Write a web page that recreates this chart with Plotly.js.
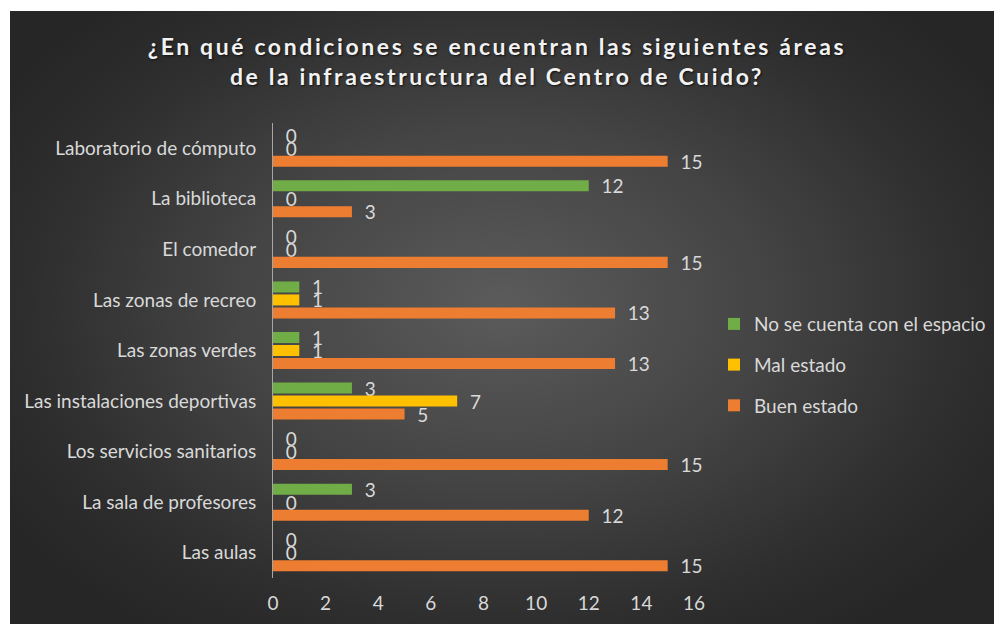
<!DOCTYPE html>
<html>
<head>
<meta charset="utf-8">
<script src="https://cdn.plot.ly/plotly-3.0.1.min.js"></script>
<style>
  html, body { margin:0; padding:0; background:#ffffff; }
  #bg { position:absolute; left:10px; top:11px; width:984px; height:613px;
        background: radial-gradient(ellipse 60% 65% at 50% 48%, #5b5b5b 0%, #444444 45%, #2e2e2e 80%, #262626 100%); }
  #chart { position:absolute; left:0; top:0; width:994px; height:624px; }
  .gtitle { letter-spacing: 2.6px; }
</style>
</head>
<body>
<div id="bg"></div>
<div id="chart"></div>
<script>
const categories = [
  "Laboratorio de cómputo",
  "La biblioteca",
  "El comedor",
  "Las zonas de recreo",
  "Las zonas verdes",
  "Las instalaciones deportivas",
  "Los servicios sanitarios",
  "La sala de profesores",
  "Las aulas"
];
const noEspacio  = [0, 12, 0, 1, 1, 3, 0, 3, 0];
const malEstado  = [0, 0, 0, 1, 1, 7, 0, 0, 0];
const buenEstado = [15, 3, 15, 13, 13, 5, 15, 12, 15];
const seriesNames = ["No se cuenta con el espacio", "Mal estado", "Buen estado"];
const seriesColors = ["#70ad47", "#ffc000", "#ed7d31"];
const xTicks = [0, 2, 4, 6, 8, 10, 12, 14, 16];

const FONT = "Lato, 'Open Sans', sans-serif";
const LABEL_PAD = "\u00a0\u00a0";
const seriesValues = [noEspacio, malEstado, buenEstado];

const traces = seriesValues.map((vals, i) => ({
  type: "bar",
  orientation: "h",
  name: seriesNames[i],
  legendgroup: "g" + i,
  y: categories,
  x: vals,
  text: vals.map(v => LABEL_PAD + String(v)),
  textposition: "outside",
  constraintext: "none",
  cliponaxis: false,
  textfont: { family: FONT, size: 19, color: "#d9d9d9" },
  marker: { color: seriesColors[i] },
  hoverinfo: "x+name"
}));

const layout = {
  width: 994, height: 624,
  paper_bgcolor: "rgba(0,0,0,0)",
  plot_bgcolor: "rgba(0,0,0,0)",
  margin: { l: 273, r: 300, t: 123, b: 46, autoexpand: false },
  barmode: "group",
  bargap: 0.23,
  bargroupgap: 0.15,
  title: {
    text: "¿En qué condiciones se encuentran las siguientes áreas<br>de la infraestructura del Centro de Cuido?",
    font: { family: FONT, size: 23, color: "#f2f2f2", weight: 700, shadow: "1px 1px 2px #111" },
    x: 0.5, xanchor: "center", xref: "container",
    y: 0.912, yanchor: "top", yref: "container",
    pad: { t: 0 }
  },
  xaxis: {
    range: [0, 16],
    tickvals: xTicks,
    ticktext: xTicks.map(String),
    showgrid: false, zeroline: false, showline: false,
    ticks: "",
    ticklabelstandoff: 12,
    tickfont: { family: FONT, size: 19, color: "#d9d9d9" },
    automargin: false,
    fixedrange: true
  },
  yaxis: {
    autorange: "reversed",
    type: "category",
    showgrid: false, zeroline: false,
    showline: true, linecolor: "#a6a6a6", linewidth: 1,
    ticks: "",
    ticklabelstandoff: 12,
    tickfont: { family: FONT, size: 19, color: "#d9d9d9" },
    automargin: false,
    fixedrange: true
  },
  legend: {
    x: 1.0475, xanchor: "left",
    y: 0.468, yanchor: "middle",
    traceorder: "grouped",
    tracegroupgap: 13,
    font: { family: FONT, size: 19, color: "#d9d9d9" },
    bgcolor: "rgba(0,0,0,0)"
  },
  showlegend: true
};

Plotly.newPlot("chart", traces, layout, { displayModeBar: false });
</script>
</body>
</html>
